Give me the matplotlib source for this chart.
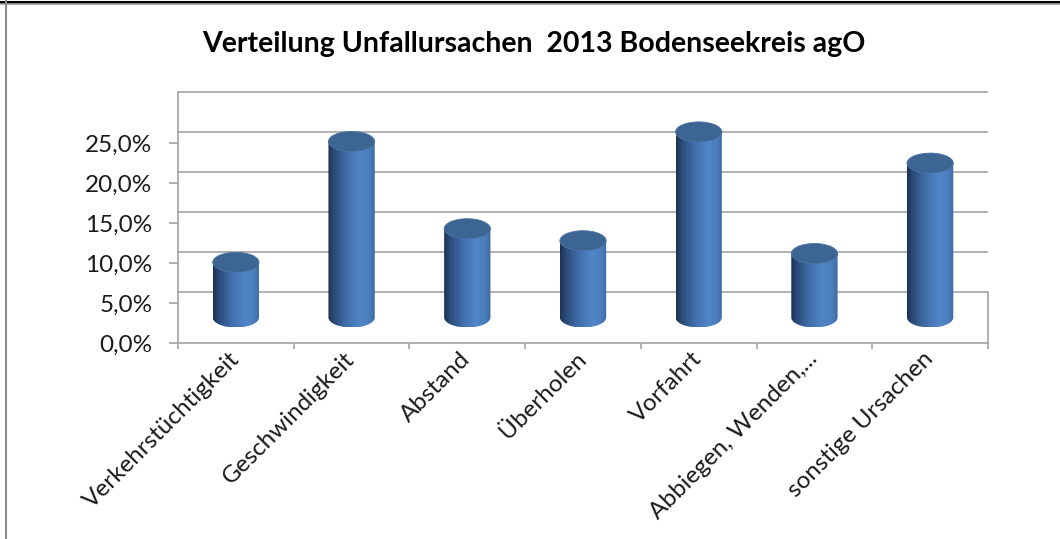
import numpy as np
import matplotlib
matplotlib.use("Agg")
import matplotlib.pyplot as plt
from matplotlib.colors import LinearSegmentedColormap
from matplotlib.patches import Ellipse, PathPatch
from matplotlib.path import Path
from matplotlib.lines import Line2D

# data (percent)
categories = ["Verkehrstüchtigkeit", "Geschwindigkeit", "Abstand", "Überholen",
              "Vorfahrt", "Abbiegen, Wenden,...", "sonstige Ursachen"]
values = [6.9, 22.0, 11.1, 9.6, 23.2, 8.0, 19.3]
yticks = [0, 5, 10, 15, 20, 25]
ytick_labels = ["0,0%", "5,0%", "10,0%", "15,0%", "20,0%", "25,0%"]
title = "Verteilung Unfallursachen  2013 Bodenseekreis agO"

plt.rcParams['font.family'] = ['Lato', 'DejaVu Sans']

W, H = 1060, 539
fig = plt.figure(figsize=(W / 100, H / 100), dpi=100)
fig.patch.set_facecolor('white')

# plot area in pixels: x 178..988, y 92..343 (0% front edge at 343, 8 px per %)
ax = fig.add_axes([178 / W, (H - 343) / H, 810 / W, 251 / H])
depth = 51 / 8.0          # oblique depth offset, in % units
ymax = 251 / 8.0
grid_col = '#a3a3a3'

# back wall gridlines (floor back edge included)
for t in yticks:
    ax.plot([-0.5, 6.5], [t + depth, t + depth], color=grid_col, lw=1.2,
            zorder=1, clip_on=False, solid_capstyle='butt')
# floor right edge
ax.plot([6.5, 6.5], [0, depth], color=grid_col, lw=1.2, zorder=1, clip_on=False)

# cylinders
cmap = LinearSegmentedColormap.from_list('cyl', [
    (0.0, '#1b3150'), (0.12, '#2a4a78'), (0.4, '#426fab'),
    (0.68, '#5086c7'), (0.88, '#4b7ebe'), (1.0, '#3d69a2')])
grad = np.linspace(0, 1, 256).reshape(1, -1)
bw = 0.40
eh = 1.25
base = depth / 2
for i, v in enumerate(values):
    top = base + v
    t = np.linspace(np.pi, 2 * np.pi, 60)
    verts = [(i - bw / 2, top), (i - bw / 2, base)]
    verts += list(zip(i + bw / 2 * np.cos(t), base + eh * np.sin(t)))
    verts += [(i + bw / 2, top), (i - bw / 2, top)]
    codes = [Path.MOVETO] + [Path.LINETO] * (len(verts) - 2) + [Path.CLOSEPOLY]
    clip = PathPatch(Path(verts, codes), transform=ax.transData)
    im = ax.imshow(grad, extent=[i - bw / 2, i + bw / 2, base - eh, top],
                   aspect='auto', cmap=cmap, zorder=3, interpolation='bilinear')
    im.set_clip_path(clip)
    ax.add_patch(Ellipse((i, top), bw, 2 * eh, facecolor='#3d6593',
                         edgecolor='#4a74a6', lw=0.6, zorder=4))

ax.set_xlim(-0.5, 6.5)
ax.set_ylim(0, ymax)
ax.set_facecolor('none')

for s in ['top', 'right']:
    ax.spines[s].set_visible(False)
for s in ['left', 'bottom']:
    ax.spines[s].set_color(grid_col)
    ax.spines[s].set_linewidth(1.2)

ax.set_yticks(yticks)
ax.set_yticklabels(ytick_labels, fontsize=17.5, color='#1a1a1a')
ax.tick_params(axis='y', length=6.5, width=1.2, color=grid_col, pad=12)

ax.set_xticks(range(len(categories)))
ax.set_xticklabels(categories, rotation=45, ha='right', va='center',
                   rotation_mode='anchor', fontsize=17.5, color='#1a1a1a')
ax.set_xticks(np.arange(-0.5, 7, 1), minor=True)
ax.tick_params(axis='x', which='major', length=0, pad=9)
ax.tick_params(axis='x', which='minor', length=4.5, width=1.2, color=grid_col)

fig.text(534 / W, 1 - 44 / H, title, ha='center', va='center',
         fontsize=20.5, fontweight='bold', color='#000000')

# outer frame
fig.add_artist(Line2D([0, 1], [1 - 1.5 / H] * 2, transform=fig.transFigure,
                      color='black', lw=2.2))
fig.add_artist(Line2D([0, 1], [1 - 4 / H] * 2, transform=fig.transFigure,
                      color='#a0a0a0', lw=1.2))
fig.add_artist(Line2D([6 / W] * 2, [0, 1], transform=fig.transFigure,
                      color='#8c8c8c', lw=1.5))

fig.savefig('out.png', dpi=100)
